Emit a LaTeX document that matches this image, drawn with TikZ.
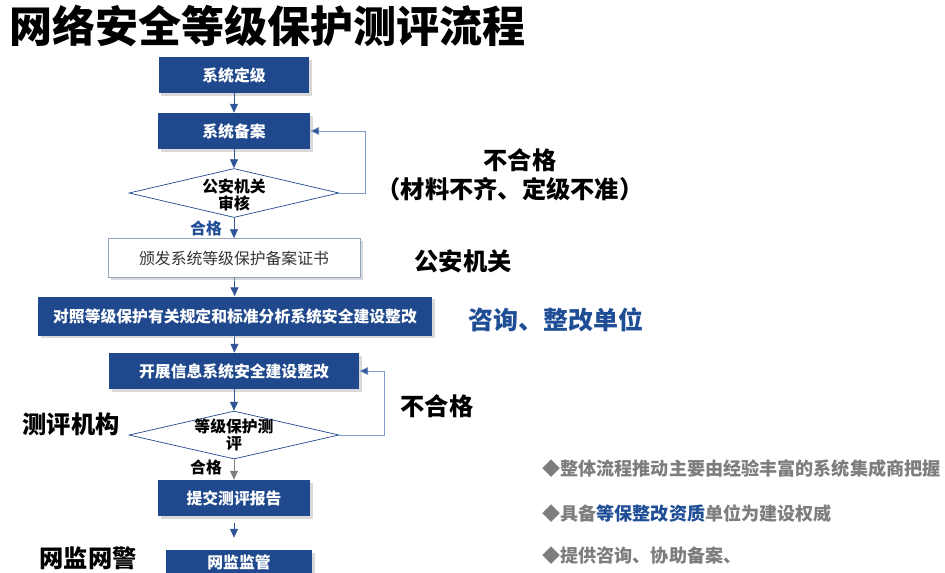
\documentclass[tikz,border=0pt]{standalone}
\usepackage{fontspec}
\setmainfont{Noto Sans CJK SC}
\usetikzlibrary{arrows.meta,shapes.geometric,shadows}
\definecolor{boxblue}{RGB}{31,73,140}
\definecolor{linkblue}{RGB}{47,85,151}
\definecolor{loopblue}{RGB}{125,155,205}
\definecolor{labelblue}{RGB}{31,78,150}
\definecolor{boxline}{RGB}{150,165,190}
\definecolor{notegray}{RGB}{125,125,125}

\begin{document}
\begin{tikzpicture}[x=0.02cm, y=-0.02cm,
    bluebox/.style={fill=boxblue, text=white, font=\bfseries\fontsize{9}{10}\selectfont,
      minimum height=0.72cm, inner sep=0pt,
      drop shadow={shadow xshift=1.5pt, shadow yshift=-1.5pt, opacity=0.3}},
    whitebox/.style={draw=boxline, fill=white, text=black!80, font=\fontsize{9}{10}\selectfont,
      minimum height=0.78cm, inner sep=0pt,
      drop shadow={shadow xshift=1.5pt, shadow yshift=-1.5pt, opacity=0.3}},
    check/.style={diamond, draw=boxblue, fill=white, inner sep=0pt, minimum width=4.2cm},
    flow/.style={draw=linkblue, -{Triangle[length=5pt,width=4.5pt]}},
    loop/.style={draw=loopblue, -{Triangle[length=5pt,width=4.5pt,fill=linkblue]}},
    role/.style={font=\bfseries\fontsize{13.8}{16}\selectfont},
    pass/.style={font=\bfseries\fontsize{9}{10}\selectfont},
    note/.style={font=\bfseries\fontsize{10.3}{12}\selectfont, text=notegray, anchor=west, inner sep=0pt}]
  \useasboundingbox (0,0) rectangle (945,572);
  \clip (0,0) rectangle (945,572);

  % title
  \node[anchor=west, inner sep=0pt, font=\bfseries\fontsize{24.5}{26}\selectfont] (title) at (9,26) {网络安全等级保护测评流程};

  % flow
  \node[bluebox, minimum width=3.02cm] (grade) at (234,75) {系统定级};
  \node[bluebox, minimum width=3.04cm] (file) at (234,131) {系统备案};
  \node[check, minimum height=0.98cm] (audit) at (234,193) {};
  \node[pass, align=center] (auditt) at (234,195) {公安机关\\审核};
  \node[whitebox, minimum width=5.04cm] (cert) at (234,258) {颁发系统等级保护备案证书};
  \node[bluebox, minimum width=7.88cm, minimum height=0.78cm] (plan) at (235,316) {对照等级保护有关规定和标准分析系统安全建设整改};
  \node[bluebox, minimum width=5.0cm] (build) at (234,371) {开展信息系统安全建设整改};
  \node[check, minimum height=0.96cm] (test) at (234,435) {};
  \node[pass, align=center] (testt) at (234,435) {等级保护测\\评};
  \node[bluebox, minimum width=3.04cm] (report) at (234,498) {提交测评报告};
  \node[bluebox, minimum width=2.94cm, minimum height=0.5cm] (supervise) at (239,562.5) {网监监管};

  \draw[flow] (grade) -- (file);
  \draw[flow] (file) -- (audit);
  \draw[flow] (audit) -- (cert);
  \draw[flow] (cert) -- (plan);
  \draw[flow] (plan) -- (build);
  \draw[flow] (build) -- (test);
  \draw[flow, draw=gray, -{Triangle[length=5pt,width=4.5pt,fill=gray]}] (test) -- (report);
  \draw[flow, shorten <=0.14cm, shorten >=0.24cm] (report.south) -- (report.south |- supervise.north);
  \draw[loop] (audit.east) -- ++(26,0) |- (file.east);
  \draw[loop] (test.east) -- ++(45,0) |- (build.east);

  % labels
  \node[pass, text=labelblue] (ok1) at (206,228) {合格};
  \node[pass] (ok2) at (206,467) {合格};
  \node[role] (fail1) at (520,160) {不合格};
  \node[role] (fail1b) at (510,189) {（材料不齐、定级不准）};
  \node[role] (police) at (463,261) {公安机关};
  \node[role, text=labelblue, font=\bfseries\fontsize{14.2}{16}\selectfont] (consult) at (556,320) {咨询、整改单位};
  \node[role] (fail2) at (437,406) {不合格};
  \node[role] (lab) at (71,424) {测评机构};
  \node[role] (netpol) at (88,558) {网监网警};

  % notes
  \node[note] (n1) at (542,469) {◆整体流程推动主要由经验丰富的系统集成商把握};
  \node[note] (n2) at (542,514) {◆具备{\color{labelblue}等保整改资质}单位为建设权威};
  \node[note] (n3) at (542,556) {◆提供咨询、协助备案、};
\end{tikzpicture}
\end{document}
